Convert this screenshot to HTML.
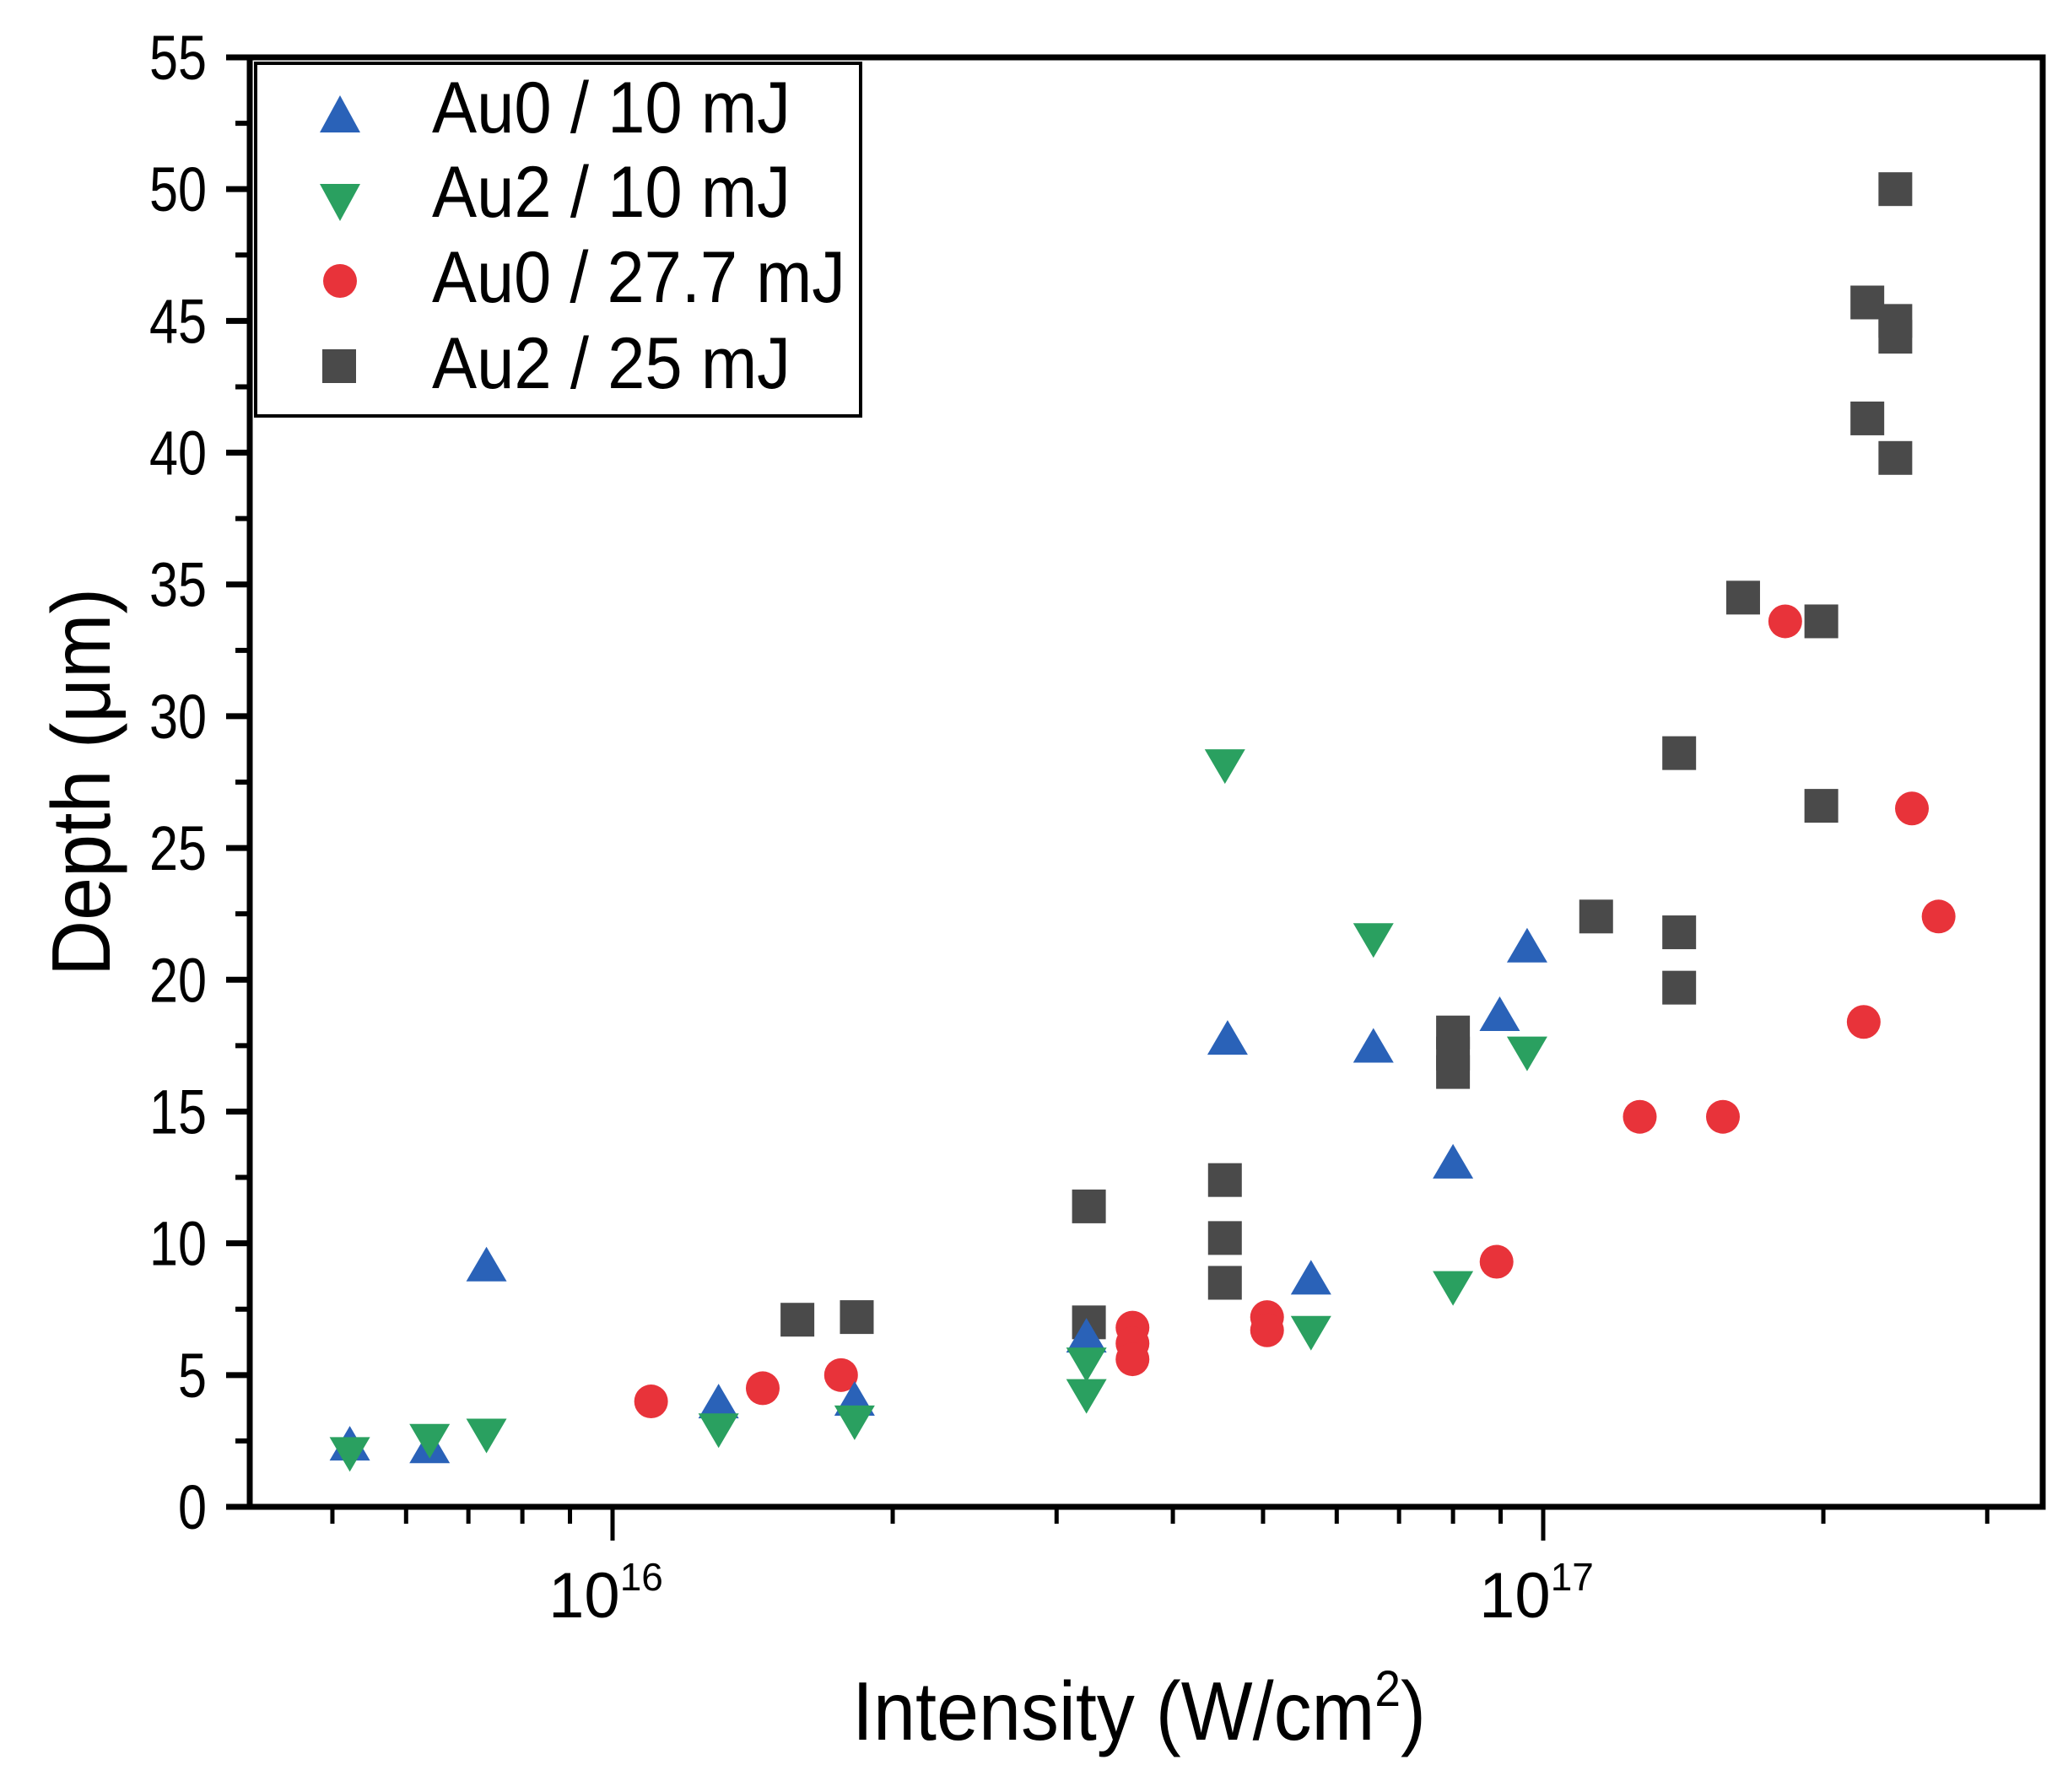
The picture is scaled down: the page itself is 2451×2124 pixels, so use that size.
<!DOCTYPE html>
<html><head><meta charset="utf-8"><style>
html,body{margin:0;padding:0;background:#fff;}
svg{display:block;font-family:"Liberation Sans",Arial,sans-serif;}
</style></head><body>
<svg id="chart" width="2451" height="2124" viewBox="0 0 2451 2124">
<g id="marks"></g>
<g id="axes"></g>
<g>
 <rect x="303" y="75" width="717" height="418" fill="#fff" stroke="#000" stroke-width="4"/>
 <polygon points="403,113 427,157 379,157" fill="#2a62b8"/>
 <text x="512" y="157" font-size="86" textLength="425" lengthAdjust="spacingAndGlyphs">Au0 / 10 mJ</text>
 <polygon points="379,218 427,218 403,262" fill="#2aa060"/>
 <text x="512" y="257" font-size="86" textLength="425" lengthAdjust="spacingAndGlyphs">Au2 / 10 mJ</text>
 <circle cx="403" cy="333" r="20" fill="#e8333a"/>
 <text x="512" y="358" font-size="86" textLength="490" lengthAdjust="spacingAndGlyphs">Au0 / 27.7 mJ</text>
 <rect x="382" y="414" width="40" height="40" fill="#4a4a4a"/>
 <text x="512" y="460" font-size="86" textLength="425" lengthAdjust="spacingAndGlyphs">Au2 / 25 mJ</text>
</g>
<text transform="translate(130,927) rotate(-90)" text-anchor="middle" font-size="98" textLength="460" lengthAdjust="spacingAndGlyphs">Depth (μm)</text>
<text x="1350" y="2062" text-anchor="middle" font-size="98" textLength="680" lengthAdjust="spacingAndGlyphs">Intensity (W/cm<tspan dy="-40" font-size="60">2</tspan><tspan dy="40">)</tspan></text>
</svg>
<script>
// intensity in units of 1e16 W/cm2, depth in um
const au0_10_x=[0.522,0.636,0.732,1.30,1.82,3.23,4.58,5.63,6.57,8.00,8.98,9.61];
const au0_10_y=[2.3,2.2,9.1,3.9,4.0,6.4,17.7,8.6,17.4,13.0,18.6,21.2];
const au2_10_x=[0.522,0.636,0.732,1.30,1.82,3.23,3.23,4.55,5.63,6.57,8.00,9.61];
const au2_10_y=[2.1,2.6,2.8,3.0,3.3,5.5,4.3,28.2,6.7,21.6,8.4,17.3];
const au0_27_x=[1.10,1.45,1.76,3.62,3.62,3.62,5.05,5.05,8.91,12.7,15.6,18.2,22.1,24.9,26.6];
const au0_27_y=[4.0,4.5,5.0,6.8,6.2,5.6,7.2,6.7,9.3,14.8,14.8,33.6,18.4,26.5,22.4];
const au2_25_x=[1.58,1.83,3.25,3.25,4.55,4.55,4.55,8.00,8.00,8.00,11.4,14.0,14.0,14.0,16.4,19.9,19.9,22.3,22.3,23.9,23.9,23.9,23.9];
const au2_25_y=[7.1,7.2,11.4,7.0,12.4,10.2,8.5,18.0,17.2,16.5,22.4,28.6,21.8,19.7,34.5,33.6,26.6,45.7,41.3,50.0,45.0,44.4,39.8];
const yTicks=[0,5,10,15,20,25,30,35,40,45,50,55];
const xMajor=[1,10];
const xMinor=[0.5,0.6,0.7,0.8,0.9,2,3,4,5,6,7,8,9,20,30];

const L=296,R=2421,T=68,B=1786;
const X0=726,DEC=1103;
const sx=v=>X0+Math.log10(v)*DEC;
const sy=v=>B-(v/55)*(B-T);
const NS="http://www.w3.org/2000/svg";
function mk(tag,attrs,parent){const e=document.createElementNS(NS,tag);for(const k in attrs)e.setAttribute(k,attrs[k]);parent.appendChild(e);return e;}
const marks=document.getElementById('marks'),axes=document.getElementById('axes');

au2_25_x.forEach((v,i)=>{const e=mk('rect',{x:sx(v)-20,y:sy(au2_25_y[i])-20,width:40,height:40,fill:'#4a4a4a'},marks);

});
au0_27_x.forEach((v,i)=>{const e=mk('circle',{cx:sx(v),cy:sy(au0_27_y[i]),r:20,fill:'#e8333a'},marks);

});
au0_10_x.forEach((v,i)=>{const x=sx(v),y=sy(au0_10_y[i]);const e=mk('polygon',{points:`${x},${y-24} ${x+24},${y+17} ${x-24},${y+17}`,fill:'#2a62b8'},marks);

});
au2_10_x.forEach((v,i)=>{const x=sx(v),y=sy(au2_10_y[i]);const e=mk('polygon',{points:`${x-24},${y-17} ${x+24},${y-17} ${x},${y+24}`,fill:'#2aa060'},marks);

});

const frame=mk('rect',{x:L,y:T,width:R-L,height:B-T,fill:'none',stroke:'#000','stroke-width':7},axes);


yTicks.forEach(t=>{const y=sy(t);
 const l=mk('line',{x1:L-28,x2:L,y1:y,y2:y,stroke:'#000','stroke-width':7},axes);
 
 
 if(t<55){const m=mk('line',{x1:L-17,x2:L,y1:sy(t+2.5),y2:sy(t+2.5),stroke:'#000','stroke-width':6},axes);
 
 }
 const tx=mk('text',{x:245,y:y+26,'text-anchor':'end','font-size':74,textLength:String(t).length*34,lengthAdjust:'spacingAndGlyphs'},axes);tx.textContent=t;
 
 
});
xMinor.forEach(v=>{const x=sx(v);if(x<L||x>R)return;
 const l=mk('line',{x1:x,x2:x,y1:B,y2:B+20,stroke:'#000','stroke-width':5},axes);
 
 });
xMajor.forEach((v,i)=>{const x=sx(v);
 const l=mk('line',{x1:x,x2:x,y1:B,y2:B+40,stroke:'#000','stroke-width':5},axes);
 
 
 const tx=mk('text',{x:x-8,y:1917,'text-anchor':'middle','font-size':76},axes);
 
 
 tx.textContent='10';
 const s=mk('tspan',{dy:-32,'font-size':46},tx);s.textContent=String(16+i);
});
</script>
</body></html>
